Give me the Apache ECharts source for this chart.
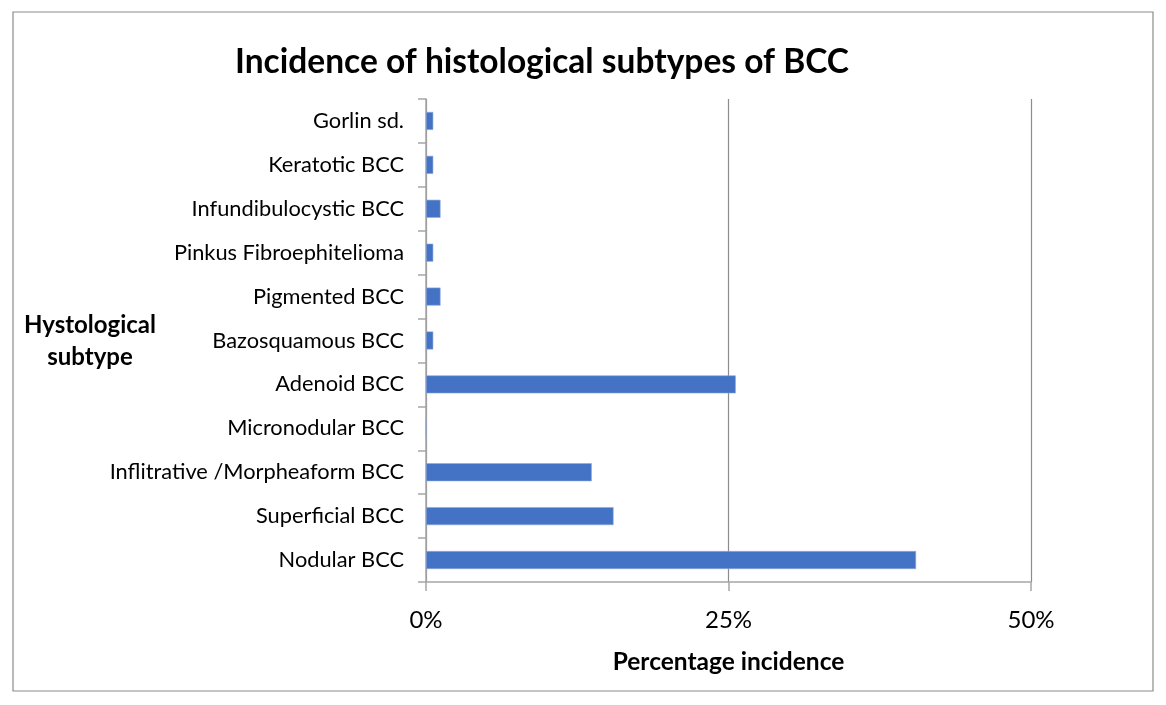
<!DOCTYPE html>
<html>
<head>
<meta charset="utf-8">
<script src="https://cdn.jsdelivr.net/npm/echarts@6/dist/echarts.min.js"></script>
<style>
    html, body { margin: 0; padding: 0; background: #fff; }
    #container { width: 1166px; height: 705px; }
</style>
</head>
<body>
<div id="container"></div>
<script>
var dom     = document.getElementById("container");
var myChart = echarts.init(dom);

// categories listed bottom to top, as the axis draws them
var subtypes = [
    'Nodular BCC',
    'Superficial BCC',
    'Inflitrative /Morpheaform BCC',
    'Micronodular BCC',
    'Adenoid BCC',
    'Bazosquamous BCC',
    'Pigmented BCC',
    'Pinkus Fibroephitelioma',
    'Infundibulocystic BCC',
    'Keratotic BCC',
    'Gorlin sd.'
];
var incidence = [40.5, 15.5, 13.7, 0, 25.6, 0.6, 1.2, 0.6, 1.2, 0.6, 0.6];
var xTicks    = [0, 25, 50];

var font = 'Lato, "Open Sans", sans-serif';

var option = {
    backgroundColor: '#fff',
    animation: false,
    title: {
        text: 'Incidence of histological subtypes of BCC',
        left: 537,
        top: 40,
        textAlign: 'center',
        textStyle: {
            fontFamily: font,
            fontSize: 33.5,
            fontWeight: 'bold',
            color: '#000'
        }
    },
    grid: {
        left: 426,
        right: 135,
        top: 99,
        bottom: 123
    },
    xAxis: {
        type: 'value',
        min: xTicks[0],
        max: xTicks[xTicks.length - 1],
        interval: 25,
        name: 'Percentage incidence',
        nameLocation: 'middle',
        nameGap: 68,
        nameTextStyle: {
            fontFamily: font,
            fontSize: 24.5,
            fontWeight: 'bold',
            color: '#000'
        },
        axisLine: { show: true, lineStyle: { color: '#a6a6a6', width: 1.5 } },
        axisTick: { show: true, length: 9, lineStyle: { color: '#a6a6a6', width: 1.5 } },
        axisLabel: {
            margin: 26,
            fontFamily: font,
            fontSize: 24,
            color: '#000',
            formatter: '{value}%'
        },
        splitLine: { show: true, lineStyle: { color: '#8c8c8c', width: 1.2 } }
    },
    yAxis: {
        type: 'category',
        data: subtypes,
        axisLine: { show: true, lineStyle: { color: '#a6a6a6', width: 1.5 } },
        axisTick: { show: true, length: 8, lineStyle: { color: '#a6a6a6', width: 1.5 } },
        axisLabel: {
            margin: 22,
            fontFamily: font,
            fontSize: 21.8,
            color: '#000'
        }
    },
    graphic: [
        {
            type: 'rect',
            shape: { x: 13, y: 12, width: 1140, height: 679 },
            style: { fill: null, stroke: '#8c8c8c', lineWidth: 1.2 },
            silent: true
        },
        {
            type: 'text',
            x: 90,
            y: 341,
            style: {
                text: 'Hystological\nsubtype',
                font: 'bold 24px ' + font,
                fill: '#000',
                align: 'center',
                verticalAlign: 'middle',
                lineHeight: 32
            }
        }
    ],
    series: [
        {
            name: 'Percentage incidence',
            type: 'bar',
            data: incidence,
            barWidth: 18,
            itemStyle: {
                color: '#4472c4',
                borderColor: '#8eaadb',
                borderWidth: 0.6
            }
        }
    ]
};

myChart.setOption(option);
</script>
</body>
</html>
